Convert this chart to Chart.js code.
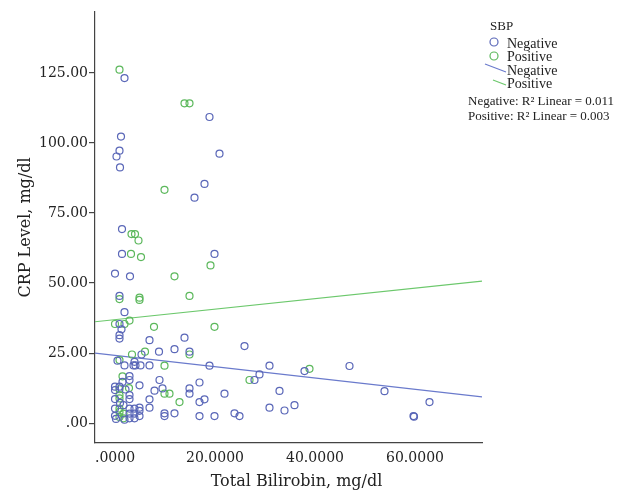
<!DOCTYPE html>
<html>
<head>
<meta charset="utf-8">
<script src="https://cdn.jsdelivr.net/npm/chart.js@4"></script>
<style>
  html, body { margin: 0; padding: 0; background: #fff; }
  #wrap { width: 624px; height: 492px; }
</style>
</head>
<body>
<div id="wrap"><canvas id="chart"></canvas></div>
<script>
// ---------------------------------------------------------------------------
// Data
// ---------------------------------------------------------------------------
var negBilirubin = [1.9, 18.9, 1.2, 0.9, 0.3, 20.9, 1.0, 17.9, 15.9, 1.4, 1.4, 19.9, 0.0, 3.0,
    0.9, 1.9, 0.9, 1.3, 0.9, 0.9, 6.9, 13.9, 25.9, 5.3, 8.8, 11.9, 14.9, 0.5, 3.9, 1.9,
    3.7, 4.1, 5.1, 6.9, 18.9, 30.9, 46.9, 2.9, 2.9, 1.5, 0.0, 0.9, 4.9, 7.9, 8.9, 16.9,
    28.9, 27.9, 37.9, 32.9, 9.5, 14.9, 14.9, 21.9, 16.9, 17.9, 6.9, 6.9, 30.9, 33.9,
    9.9, 9.9, 11.9, 4.9, 4.9, 4.9, 16.9, 19.9, 23.9, 24.9, 53.9, 62.9, 59.7, 59.8, 35.9,
    0.0, 0.0, 2.9, 2.9, 0.0, 0.0, 1.7, 2.9, 3.9, 2.9, 3.9, 2.9, 3.9, 0.2, 1.9, 1.0, 2.1];
var negCRP = [123.2, 109.3, 102.3, 97.3, 95.2, 96.2, 91.3, 85.4, 80.5, 69.3, 60.4, 60.4, 53.4, 52.4,
    45.4, 39.6, 35.4, 33.5, 31.4, 30.2, 29.6, 30.5, 27.5, 24.5, 25.5, 26.4, 25.5, 22.3, 21.9, 20.6,
    20.6, 20.6, 20.6, 20.6, 20.5, 20.5, 20.4, 16.8, 15.4, 14.7, 13.0, 13.0, 13.5, 11.6, 15.4, 14.5,
    17.4, 15.4, 18.6, 11.5, 12.4, 12.4, 10.5, 10.5, 7.5, 8.5, 8.5, 5.5, 5.5, 4.5,
    3.5, 2.5, 3.5, 5.5, 4.4, 2.5, 2.5, 2.5, 3.5, 2.5, 11.4, 7.5, 2.5, 2.3, 6.4,
    11.8, 8.6, 10.0, 8.6, 5.2, 2.6, 6.4, 5.2, 5.2, 3.4, 3.4, 1.7, 1.7, 1.5, 1.2, 7.2, 12.0];

var posBilirubin = [0.9, 13.9, 14.9, 9.9, 3.3, 4.0, 4.7, 3.2, 5.2, 19.1, 11.9, 0.9, 4.9, 4.9,
    14.9, 0.0, 1.9, 2.9, 7.8, 19.9, 3.4, 6.0, 14.9, 0.9, 9.9, 1.5, 2.8, 26.9, 38.9, 9.9,
    10.9, 12.9, 0.9, 0.9, 0.9, 0.9, 0.9, 1.7, 1.7, 0.9];
var posCRP = [126.2, 114.2, 114.2, 83.3, 67.5, 67.5, 65.2, 60.4, 59.3, 56.3, 52.4, 44.3, 44.8, 44.0,
    45.4, 35.4, 35.4, 36.6, 34.4, 34.4, 24.5, 25.5, 24.5, 22.5, 20.5, 16.7, 12.5, 15.4, 19.4, 10.5,
    10.5, 7.5, 12.1, 10.0, 8.8, 5.2, 4.0, 3.4, 1.7, 2.2];

// Fit line end points (SPSS linear fit per group)
var fitX = [-4, 73.4];
var negFitY = [25.0, 9.4];
var posFitY = [36.2, 50.7];

var xTicks = [0, 20, 40, 60];
var yTicks = [0, 25, 50, 75, 100, 125];

var negColor = '#5a67b8';
var posColor = '#5cb85c';
var negLine = '#6a7acc';
var posLine = '#6cc86c';
var inkColor = '#222';

function toPoints(xs, ys) {
    return xs.map((x, i) => ({ x: x, y: ys[i] }));
}

// ---------------------------------------------------------------------------
// Legend drawn next to the plot, SPSS style
// ---------------------------------------------------------------------------
var spssLegend = {
    id: 'spssLegend',
    afterDraw(chart) {
        const c = chart.ctx;
        c.save();
        c.fillStyle = inkColor;
        c.textBaseline = 'middle';
        c.font = "13px 'Liberation Serif'";
        c.fillText('SBP', 490, 27);

        c.font = "14px 'Liberation Serif'";
        c.lineWidth = 1.2;
        c.strokeStyle = negColor;
        c.beginPath(); c.arc(494, 42, 4, 0, Math.PI * 2); c.stroke();
        c.strokeStyle = posColor;
        c.beginPath(); c.arc(494, 56, 4, 0, Math.PI * 2); c.stroke();
        c.strokeStyle = negLine;
        c.beginPath(); c.moveTo(485, 64); c.lineTo(506, 72); c.stroke();
        c.strokeStyle = posLine;
        c.beginPath(); c.moveTo(493, 80); c.lineTo(506, 85); c.stroke();

        c.fillText('Negative', 507, 44);
        c.fillText('Positive', 507, 57);
        c.fillText('Negative', 507, 71);
        c.fillText('Positive', 507, 84);

        c.font = "13px 'Liberation Serif'";
        c.fillText('Negative: R\u00b2 Linear = 0.011', 468, 102);
        c.fillText('Positive: R\u00b2 Linear = 0.003', 468, 117);
        c.restore();
    }
};

// ---------------------------------------------------------------------------
// Chart
// ---------------------------------------------------------------------------
var pointStyle = { pointRadius: 3.5, pointHoverRadius: 3.5, borderWidth: 1.2, backgroundColor: 'transparent', showLine: false };

new Chart(document.getElementById('chart'), {
    type: 'scatter',
    data: {
        datasets: [
            Object.assign({ label: 'Negative', data: toPoints(negBilirubin, negCRP), borderColor: negColor }, pointStyle),
            Object.assign({ label: 'Positive', data: toPoints(posBilirubin, posCRP), borderColor: posColor }, pointStyle),
            { type: 'line', label: 'Negative fit', data: toPoints(fitX, negFitY), borderColor: negLine, borderWidth: 1.2, pointRadius: 0, fill: false },
            { type: 'line', label: 'Positive fit', data: toPoints(fitX, posFitY), borderColor: posLine, borderWidth: 1.2, pointRadius: 0, fill: false },
        ]
    },
    options: {
        responsive: true,
        maintainAspectRatio: false,
        animation: false,
        layout: { padding: { left: 0, right: 142, top: 12, bottom: 0 } },
        plugins: { legend: { display: false }, tooltip: { enabled: false } },
        scales: {
            x: {
                type: 'linear',
                min: -4, max: 73.4,
                afterBuildTicks: (s) => { s.ticks = xTicks.map(v => ({ value: v })); },
                afterFit: (s) => { s.height = 49; },
                ticks: {
                    callback: (v) => v === 0 ? '.0000' : v.toFixed(4),
                    color: inkColor, padding: 7, maxRotation: 0,
                    font: { family: "'DejaVu Serif'", size: 14 },
                },
                grid: { drawOnChartArea: false, drawTicks: false },
                border: { color: '#444', width: 1.2 },
                title: {
                    // leading en spaces nudge the title right, as SPSS places it
                    display: true, text: '\u2002\u2002Total Bilirobin, mg/dl', color: inkColor,
                    font: { family: "'DejaVu Serif'", size: 16 }, padding: { top: 0, bottom: 1 },
                },
            },
            y: {
                type: 'linear',
                min: -7.1, max: 146.8,
                afterBuildTicks: (s) => { s.ticks = yTicks.map(v => ({ value: v })); },
                afterFit: (s) => { s.width = 95; },
                ticks: {
                    callback: (v) => v === 0 ? '.00' : v.toFixed(2),
                    color: inkColor, padding: 1,
                    font: { family: "'DejaVu Serif'", size: 14 },
                },
                grid: { drawOnChartArea: false, drawTicks: true, tickLength: 6, color: '#444', lineWidth: 1.2 },
                border: { color: '#444', width: 1.2 },
                title: {
                    display: true, text: 'CRP Level, mg/dl', color: inkColor,
                    font: { family: "'DejaVu Serif'", size: 16 }, padding: { top: 16, bottom: 0 },
                },
            },
        },
    },
    plugins: [spssLegend],
});
</script>
</body>
</html>
